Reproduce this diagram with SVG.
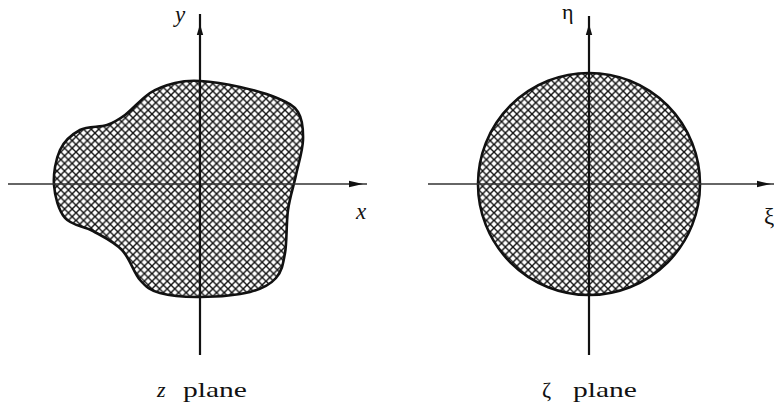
<svg xmlns="http://www.w3.org/2000/svg" xmlns:xlink="http://www.w3.org/1999/xlink" width="774" height="415" viewBox="0 0 774 415">
<style>
.lbl{fill:#111;}
.vax{stroke:#111;stroke-width:2.2;fill:none;}
.hax{stroke:#333;stroke-width:1.4;fill:none;}
.region{fill:url(#hatch);stroke:#111;stroke-width:2.6;}
.head{fill:#111;}
</style>
<defs>
<pattern id="hatch" patternUnits="userSpaceOnUse" width="7.6" height="7.6">
<rect width="7.6" height="7.6" fill="#fff"/>
<path d="M-1,-1 L8.6,8.6 M-1,6.6 L1,8.6 M6.6,-1 L8.6,1" stroke="#111" stroke-width="1.35"/>
<path d="M-1,8.6 L8.6,-1 M-1,1 L1,-1 M6.6,8.6 L8.6,6.6" stroke="#111" stroke-width="1.35"/>
</pattern>
<path id="upHead" d="M0,0 L3.2,11 L-3.2,11 Z"/>
<path id="rightHead" d="M0,0 L-14,-3.2 L-14,3.2 Z"/>
</defs>

<g id="z-plane">
<path class="region" d="M200,81 C210.8,81.7 227.2,84.2 240,87 C252.8,89.8 267.3,93.8 277,98 C286.7,102.2 293.7,105 298,112 C302.3,119 303.3,129.5 303,140 C302.7,150.5 298.5,163.3 296,175 C293.5,186.7 289.8,197 288,210 C286.2,223 287,241.7 285,253 C283,264.3 281.8,271.5 276,278 C270.2,284.5 262.7,288.8 250,292 C237.3,295.2 215,296.8 200,297 C185,297.2 170,295.8 160,293 C150,290.2 146.3,287.2 140,280 C133.7,272.8 129.8,258.2 122,250 C114.2,241.8 102.5,236.3 93,231 C83.5,225.7 71.5,225.7 65,218 C58.5,210.3 54.8,196.3 54,185 C53.2,173.7 55.7,159.2 60,150 C64.3,140.8 72.2,134.2 80,130 C87.8,125.8 99.5,127.5 107,125 C114.5,122.5 117.8,120.3 125,115 C132.2,109.7 141.7,98.3 150,93 C158.3,87.7 166.7,85 175,83 C183.3,81 189.2,80.3 200,81 Z"/>
<text class="lbl" font-family="'Liberation Serif', 'DejaVu Serif', serif" font-style="italic" x="175" y="22" font-size="23">y</text>
<text class="lbl" font-family="'Liberation Serif', 'DejaVu Serif', serif" font-style="italic" x="356" y="219" font-size="23">x</text>
<text class="lbl" font-family="'Liberation Serif', 'DejaVu Serif', serif" font-style="italic" x="157" y="397" font-size="22">z</text>
<text class="lbl" font-family="'Liberation Serif', 'DejaVu Serif', serif" x="183" y="397" font-size="22" textLength="64" lengthAdjust="spacingAndGlyphs">plane</text>
</g>

<g id="zeta-plane">
<circle class="region" cx="589" cy="184" r="111"/>
<text class="lbl" font-family="'Liberation Serif', 'DejaVu Serif', serif" x="562" y="19" font-size="22">η</text>
<text class="lbl" font-family="'Liberation Serif', 'DejaVu Serif', serif" x="764" y="224" font-size="23">ξ</text>
<text class="lbl" font-family="'Liberation Serif', 'DejaVu Serif', serif" x="542" y="397" font-size="22">ζ</text>
<text class="lbl" font-family="'Liberation Serif', 'DejaVu Serif', serif" x="573" y="397" font-size="22" textLength="64" lengthAdjust="spacingAndGlyphs">plane</text>
</g>

<g id="axes">
<line class="hax" x1="8" y1="184" x2="367" y2="184"/>
<line class="vax" x1="200" y1="14" x2="200" y2="355"/>
<use href="#upHead" class="head" x="200" y="24"/>
<use href="#rightHead" class="head" x="363" y="184"/>
<line class="hax" x1="428" y1="184" x2="774" y2="184"/>
<line class="vax" x1="589" y1="16" x2="589" y2="355"/>
<use href="#upHead" class="head" x="589" y="24"/>
<use href="#rightHead" class="head" x="771" y="184"/>
</g>
</svg>
